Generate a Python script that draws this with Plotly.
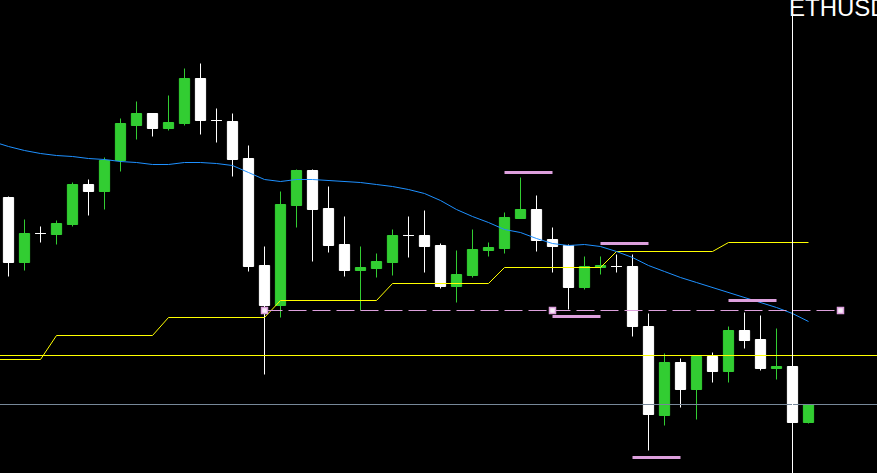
import plotly.graph_objects as go

# ---- data (price units) ----
idx = list(range(51))
opens = [2303, 2238, 2267, 2266, 2276, 2316, 2309, 2340, 2375, 2387,
         2372, 2377, 2422, 2380, 2379, 2342, 2235, 2195, 2295, 2330,
         2292, 2256, 2230, 2232, 2238, 2265, 2265, 2255, 2214, 2225,
         2250, 2252, 2282, 2291, 2261, 2255, 2213, 2233, 2234, 2234,
         2174, 2085, 2138, 2111, 2144, 2129, 2170, 2161, 2132, 2134,
         2078]
highs = [2304, 2281, 2274, 2280, 2318, 2321, 2343, 2382, 2399, 2387,
         2405, 2432, 2437, 2392, 2387, 2355, 2254, 2309, 2331, 2331,
         2314, 2284, 2254, 2247, 2271, 2284, 2290, 2257, 2250, 2271,
         2258, 2288, 2323, 2305, 2273, 2256, 2244, 2244, 2246, 2246,
         2187, 2147, 2142, 2144, 2148, 2174, 2188, 2185, 2172, 2134,
         2096]
lows = [2224, 2230, 2258, 2256, 2274, 2285, 2291, 2329, 2361, 2364,
        2370, 2375, 2366, 2358, 2324, 2229, 2126, 2183, 2273, 2239,
        2248, 2224, 2190, 2223, 2225, 2243, 2228, 2212, 2198, 2223,
        2244, 2247, 2282, 2249, 2228, 2191, 2211, 2226, 2228, 2164,
        2050, 2075, 2093, 2081, 2118, 2118, 2152, 2130, 2121, 2078,
        2077]
closes = [2238, 2267, 2267, 2277, 2316, 2309, 2340, 2377, 2387, 2372,
          2378, 2422, 2380, 2380, 2341, 2234, 2195, 2296, 2330, 2291,
          2255, 2230, 2233, 2239, 2265, 2265, 2254, 2214, 2226, 2251,
          2253, 2283, 2291, 2260, 2254, 2213, 2234, 2235, 2234, 2174,
          2086, 2138, 2111, 2144, 2129, 2170, 2160, 2132, 2134, 2078,
          2096]

ma_x = list(range(-1, 51))
ma_vals = [2359, 2354, 2350, 2347, 2345, 2344, 2342, 2341, 2339, 2338, 2336,
           2336, 2338, 2338, 2337, 2335, 2328, 2321, 2319, 2321, 2321,
           2320, 2319, 2318, 2316, 2314, 2311, 2307, 2300, 2291, 2284,
           2278, 2271, 2268, 2262, 2257, 2255, 2256, 2254, 2249, 2243,
           2235, 2229, 2223, 2218, 2213, 2208, 2203, 2198, 2193, 2187,
           2179]

trail_vals = [2141, 2141, 2141, 2141, 2165, 2165, 2165, 2165, 2165, 2165, 2165,
              2183, 2183, 2183, 2183, 2183, 2183, 2183, 2200, 2200, 2200,
              2200, 2200, 2200, 2200, 2217, 2217, 2217, 2217, 2217, 2217,
              2217, 2233, 2233, 2233, 2233, 2233, 2233, 2233, 2249, 2249,
              2249, 2249, 2249, 2249, 2249, 2258, 2258, 2258, 2258, 2258,
              2258]

yellow_level = 2145
gray_level = 2096

dash_level = 2190
dash_start, dash_end = 16, 52
dash_marks = [16, 34, 52]

pink_levels = [2328, 2184, 2257, 2043, 2200]
pink_start = [31, 34, 37, 39, 45]
pink_end = [34, 37, 40, 42, 48]

cursor_idx = 49
symbol_text = "ETHUSD"

GREEN = "#32CD32"
WHITE = "#FFFFFF"
BLUE = "#1E90FF"
YELLOW = "#FFFF00"
PLUM = "#DDA0DD"
GRAY = "#778899"

fig = go.Figure()

up = [i for i in idx if closes[i] > opens[i]]
dn = [i for i in idx if closes[i] <= opens[i]]


def candles(sel, color):
    style = dict(line=dict(color=color, width=1), fillcolor=color)
    return go.Candlestick(
        x=sel,
        open=[opens[i] for i in sel],
        high=[highs[i] for i in sel],
        low=[lows[i] for i in sel],
        close=[closes[i] for i in sel],
        increasing=style, decreasing=style,
        whiskerwidth=0, showlegend=False,
    )


fig.add_trace(candles(up, GREEN))
fig.add_trace(candles(dn, WHITE))

# horizontal full-width levels
fig.add_hline(y=yellow_level, line=dict(color=YELLOW, width=1))
fig.add_hline(y=gray_level, line=dict(color=GRAY, width=1))

# trailing stepped line
fig.add_trace(go.Scatter(x=ma_x, y=trail_vals, mode="lines",
                         line=dict(color=YELLOW, width=1), showlegend=False))
# moving average
fig.add_trace(go.Scatter(x=ma_x, y=ma_vals, mode="lines",
                         line=dict(color=BLUE, width=1), showlegend=False))

# dashed level
fig.add_trace(go.Scatter(x=[dash_start, dash_end], y=[dash_level, dash_level],
                         mode="lines", line=dict(color=PLUM, width=1, dash="18px,6px"),
                         showlegend=False))
fig.add_trace(go.Scatter(x=dash_marks, y=[dash_level] * len(dash_marks), mode="markers",
                         marker=dict(symbol="square", size=6, color="#F8ECF8",
                                     line=dict(color=PLUM, width=1.5)),
                         showlegend=False))

# short pink bars
px, py = [], []
for lv, s, e in zip(pink_levels, pink_start, pink_end):
    px += [s, e, None]
    py += [lv, lv, None]
fig.add_trace(go.Scatter(x=px, y=py, mode="lines",
                         line=dict(color=PLUM, width=3), showlegend=False))

# cursor line
fig.add_shape(type="line", xref="x", yref="paper", x0=cursor_idx, x1=cursor_idx,
              y0=0, y1=1, line=dict(color=WHITE, width=1))

fig.add_annotation(xref="paper", yref="paper", x=787 / 877, y=1, xanchor="left",
                   yanchor="top", yshift=8, text=symbol_text, showarrow=False,
                   font=dict(family="Liberation Sans", size=24, color=WHITE))

W, H = 877, 473
fig.update_layout(
    width=W, height=H, margin=dict(l=0, r=0, t=0, b=0),
    paper_bgcolor="#000000", plot_bgcolor="#000000",
    boxgap=0.36, boxgroupgap=0,
    showlegend=False,
    xaxis=dict(range=[-8.5 / 16, -8.5 / 16 + W / 16], showgrid=False, zeroline=False,
               showticklabels=False, rangeslider=dict(visible=False), fixedrange=True),
    yaxis=dict(range=[2500.5 - H, 2500.5], showgrid=False, zeroline=False,
               showticklabels=False, fixedrange=True),
)

fig.write_html("out.html", config={"displayModeBar": False},
               post_script="document.body.style.margin='0px';document.body.style.background='#000';")
